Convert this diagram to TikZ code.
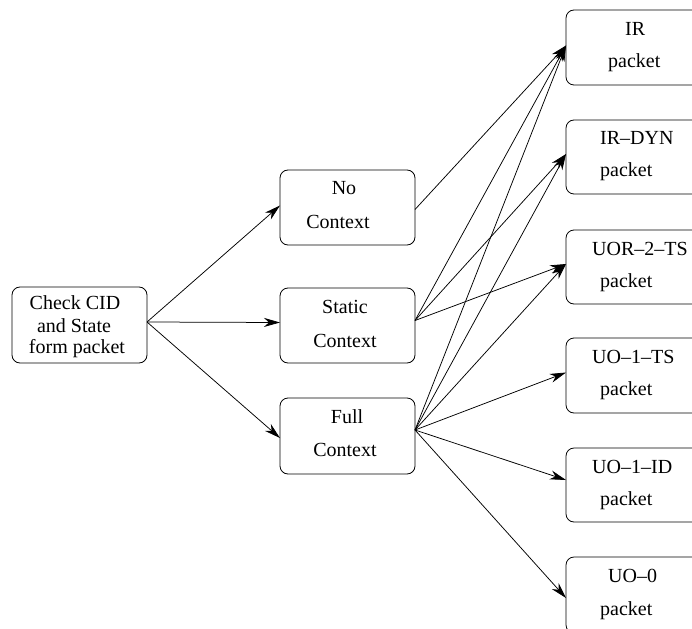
\documentclass[tikz,border=0pt]{standalone}
\usepackage{fontspec}
\setmainfont{Liberation Serif}
\usetikzlibrary{arrows.meta}
\begin{document}
\begin{tikzpicture}[x=1pt,y=-1pt,
  box/.style={draw, line width=0.8pt, rounded corners=8pt, inner sep=0pt, outer sep=0pt,
              anchor=north west, minimum width=#1},
  box/.default=135pt,
  lbl/.style={inner sep=0pt, anchor=base, font=\fontsize{20}{22}\selectfont},
  lblw/.style={inner sep=0pt, anchor=base west, font=\fontsize{20}{22}\selectfont},
  link/.style={line width=0.75pt, -{Stealth[length=16pt,width=9pt,inset=5pt]}}]
\useasboundingbox (0,0) rectangle (692,628);
\clip (0,0) rectangle (692,628);

% input box
\node[box, minimum height=76pt] (chk) at (12,287) {};
\node[lbl] (chk1) at (75,309) {Check CID};
\node[lbl] (chk2) at (74,332) {and State};
\node[lbl] (chk3) at (77,353) {form packet};

% context boxes
\node[box, minimum height=75pt] (nc) at (280,170) {};
\node[lbl] (nc1) at (344,195) {No};
\node[lbl] (nc2) at (338,228) {Context};
\node[box, minimum height=75pt] (sc) at (280,288) {};
\node[lbl] (sc1) at (345,313) {Static};
\node[lbl] (sc2) at (345,347) {Context};
\node[box, minimum height=76pt] (fc) at (280,398) {};
\node[lbl] (fc1) at (347,423) {Full};
\node[lbl] (fc2) at (345,456) {Context};

% packet boxes
\node[box=160pt, minimum height=75pt] (ir) at (566,10) {};
\node[lblw] (ir1) at (625,36) {IR};
\node[lblw] (ir2) at (608,68) {packet};
\node[box=160pt, minimum height=74pt] (dyn) at (566,120) {};
\node[lblw] (dyn1) at (600,145) {IR–DYN};
\node[lblw] (dyn2) at (600,177) {packet};
\node[box=160pt, minimum height=74pt] (uor) at (566,230) {};
\node[lblw] (uor1) at (592,255) {UOR–2–TS};
\node[lblw] (uor2) at (600,287) {packet};
\node[box=160pt, minimum height=75pt] (uots) at (566,338) {};
\node[lblw] (uots1) at (592,363) {UO–1–TS};
\node[lblw] (uots2) at (600,395) {packet};
\node[box=160pt, minimum height=74pt] (uoid) at (566,448) {};
\node[lblw] (uoid1) at (592,473) {UO–1–ID};
\node[lblw] (uoid2) at (600,505) {packet};
\node[box=160pt, minimum height=76pt] (uo0) at (566,557) {};
\node[lblw] (uo01) at (608,582) {UO–0};
\node[lblw] (uo02) at (600,615) {packet};

% context selection
\draw[link] ([yshift=3pt]chk.east) -- ([yshift=2pt]nc.west);
\draw[link] ([yshift=3pt]chk.east) -- ([yshift=3pt]sc.west);
\draw[link] ([yshift=3pt]chk.east) -- ([yshift=-2pt]fc.west);

% packet types per context
\draw[link] ([yshift=-2pt]nc.east) -- ([yshift=2pt]ir.west);

\draw[link] ([yshift=5pt]sc.east) -- ([yshift=2pt]ir.west);
\draw[link] ([yshift=5pt]sc.east) -- ([yshift=3pt]dyn.west);
\draw[link] ([yshift=5pt]sc.east) -- ([yshift=3pt]uor.west);

\draw[link] ([yshift=6pt]fc.east) -- ([yshift=2pt]ir.west);
\draw[link] ([yshift=6pt]fc.east) -- ([yshift=3pt]dyn.west);
\draw[link] ([yshift=6pt]fc.east) -- ([yshift=3pt]uor.west);
\draw[link] ([yshift=6pt]fc.east) -- ([yshift=3pt]uots.west);
\draw[link] ([yshift=6pt]fc.east) -- ([yshift=5pt]uoid.west);
\draw[link] ([yshift=6pt]fc.east) -- ([yshift=-3pt]uo0.west);
\end{tikzpicture}
\end{document}
